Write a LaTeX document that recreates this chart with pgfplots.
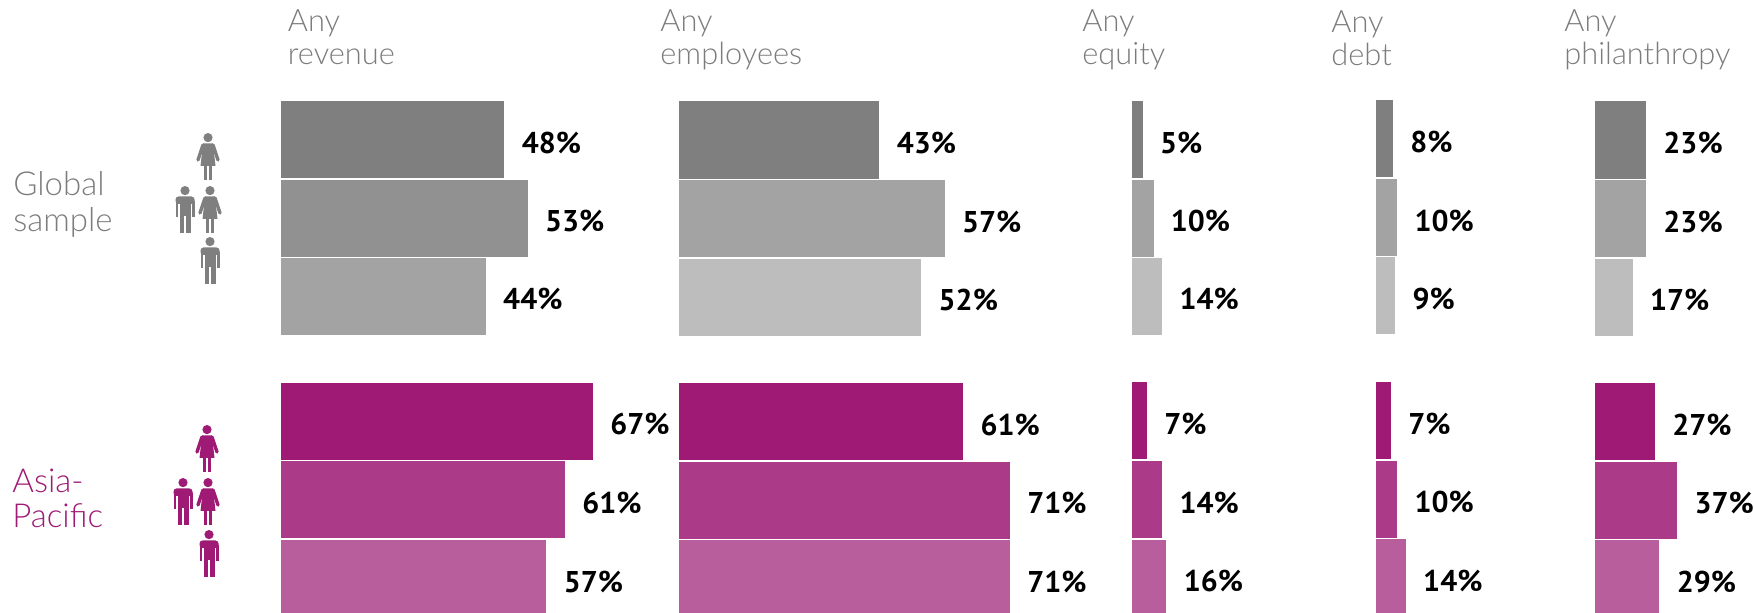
\documentclass[border=0pt]{standalone}
\usepackage{fontspec}
\usepackage{pgfplots}
\pgfplotsset{compat=1.18}
\setmainfont{Lato Light}
\newfontfamily\valuefont{PT Sans Bold}

\definecolor{greyA}{HTML}{7F7F7F}
\definecolor{greyB}{HTML}{A3A3A3}
\definecolor{greyC}{HTML}{BDBDBD}
\definecolor{greyR}{HTML}{919191}
\definecolor{plumA}{HTML}{9E1A74}
\definecolor{plumB}{HTML}{AB3B88}
\definecolor{plumC}{HTML}{B95E9D}
\definecolor{headtext}{HTML}{7C7C7C}

% One panel: y runs downwards in page pixels, x is the share in percent
\pgfplotsset{
  panel/.style={
    anchor=north west, scale only axis, height=306.5pt,
    ymin=0, ymax=613, y dir=reverse, xmin=0, xmax=100,
    axis lines=none, clip=false,
    xbar, bar shift=0pt, bar width=77,
    point meta=x,
    nodes near coords={\pgfmathprintnumber[assume math mode=true]{\pgfplotspointmeta}\%},
    every node near coord/.append style={
      anchor=west, inner sep=0pt, xshift=8.5pt, yshift=-1.6pt,
      font=\valuefont\fontsize{15}{15}\selectfont, text=black},
  },
}

% Pictograms, drawn in page pixels from the top centre of the figure
\newcommand\man[3]{%
  \begin{scope}[shift={(#1,#2)}]
    \fill[#3] (0,4.6) circle[radius=4.6];
    \fill[#3,rounded corners=1.5pt] (-9.5,18) -- (-9.5,10.5) -- (9.5,10.5) -- (9.5,18) -- cycle;
    \fill[#3] (-9.5,15) rectangle (-6.6,31);
    \fill[#3] (6.6,15) rectangle (9.5,31);
    \fill[#3] (-5.5,15) rectangle (5.5,30);
    \fill[#3] (-5.5,30) rectangle (-0.8,47);
    \fill[#3] (0.8,30) rectangle (5.5,47);
  \end{scope}}
\newcommand\woman[3]{%
  \begin{scope}[shift={(#1,#2)}]
    \fill[#3] (0,4.6) circle[radius=4.6];
    \fill[#3] (-5,10.5) -- (5,10.5) -- (7.5,33) -- (-7.5,33) -- cycle;
    \fill[#3] (-4.3,33) rectangle (-0.8,47);
    \fill[#3] (0.8,33) rectangle (4.3,47);
    \draw[#3,line width=1.7pt,line cap=round] (-5,12) -- (-10,27);
    \draw[#3,line width=1.7pt,line cap=round] (5,12) -- (10,27);
  \end{scope}}

\begin{document}
\begin{tikzpicture}[x=0.5pt,y=-0.5pt]
\path[use as bounding box,clip] (0,0) rectangle (1754,613);

% Any revenue
\begin{axis}[panel, at={(140.4pt,0pt)}, width=233pt]
  \addplot[fill=greyA,draw=none] coordinates {(48,139.3)};
  \addplot[fill=greyR,draw=none] coordinates {(53,218.1)};
  \addplot[fill=greyB,draw=none] coordinates {(44,296.2)};
  \addplot[fill=plumA,draw=none] coordinates {(67,421.2)};
  \addplot[fill=plumB,draw=none] coordinates {(61,499.8)};
  \addplot[fill=plumC,draw=none] coordinates {(57,578.3)};
\end{axis}

% Any employees
\begin{axis}[panel, at={(339.5pt,0pt)}, width=233pt]
  \addplot[fill=greyA,draw=none] coordinates {(43,140)};
  \addplot[fill=greyB,draw=none] coordinates {(57,218.8)};
  \addplot[fill=greyC,draw=none] coordinates {(52,297)};
  \addplot[fill=plumA,draw=none] coordinates {(61,421.6)};
  \addplot[fill=plumB,draw=none] coordinates {(71,500.2)};
  \addplot[fill=plumC,draw=none] coordinates {(71,578.7)};
\end{axis}

% Any equity
\begin{axis}[panel, at={(566pt,0pt)}, width=107.5pt]
  \addplot[fill=greyA,draw=none] coordinates {(5,139.3)};
  \addplot[fill=greyB,draw=none] coordinates {(10,218.1)};
  \addplot[fill=greyC,draw=none] coordinates {(14,296.2)};
  \addplot[fill=plumA,draw=none] coordinates {(7,420.9)};
  \addplot[fill=plumB,draw=none] coordinates {(14,499.5)};
  \addplot[fill=plumC,draw=none] coordinates {(16,578)};
\end{axis}

% Any debt
\begin{axis}[panel, at={(688pt,0pt)}, width=106.5pt]
  \addplot[fill=greyA,draw=none] coordinates {(8,138.8)};
  \addplot[fill=greyB,draw=none] coordinates {(10,217.6)};
  \addplot[fill=greyC,draw=none] coordinates {(9,295.7)};
  \addplot[fill=plumA,draw=none] coordinates {(7,420.4)};
  \addplot[fill=plumB,draw=none] coordinates {(10,499)};
  \addplot[fill=plumC,draw=none] coordinates {(14,577.5)};
\end{axis}

% Any philanthropy
\begin{axis}[panel, at={(797.5pt,0pt)}, width=111pt]
  \addplot[fill=greyA,draw=none] coordinates {(23,140)};
  \addplot[fill=greyB,draw=none] coordinates {(23,218.8)};
  \addplot[fill=greyC,draw=none] coordinates {(17,297)};
  \addplot[fill=plumA,draw=none] coordinates {(27,421.6)};
  \addplot[fill=plumB,draw=none] coordinates {(37,500.2)};
  \addplot[fill=plumC,draw=none] coordinates {(29,578.7)};
\end{axis}

% Column headings
\begin{scope}[every node/.style={anchor=base west,inner sep=0pt,text=headtext,font=\fontsize{15.4}{15.5}\selectfont,align=left}]
  \node at (287.5,32) {Any}; \node at (287.5,65) {revenue};
  \node at (660,32) {Any}; \node at (660,65) {employees};
  \node at (1082,32) {Any}; \node at (1082,65) {equity};
  \node at (1331,33) {Any}; \node at (1331,66) {debt};
  \node at (1564,32) {Any}; \node at (1564,65) {philanthropy};
\end{scope}

% Group names
\begin{scope}[every node/.style={anchor=base west,inner sep=0pt,font=\fontsize{16.5}{16.5}\selectfont}]
  \node[text=headtext] at (13,196) {Global};
  \node[text=headtext] at (13,232) {sample};
  \node[text=plumA] at (12,493) {Asia-};
  \node[text=plumA] at (12,528) {Pacific};
\end{scope}

% Who each row counts
\woman{208}{133}{greyA}
\man{185}{186}{greyA}
\woman{210}{186}{greyA}
\man{210}{237}{greyA}
\woman{207}{425}{plumA}
\man{183}{478}{plumA}
\woman{208}{478}{plumA}
\man{209}{530}{plumA}
\end{tikzpicture}
\end{document}
